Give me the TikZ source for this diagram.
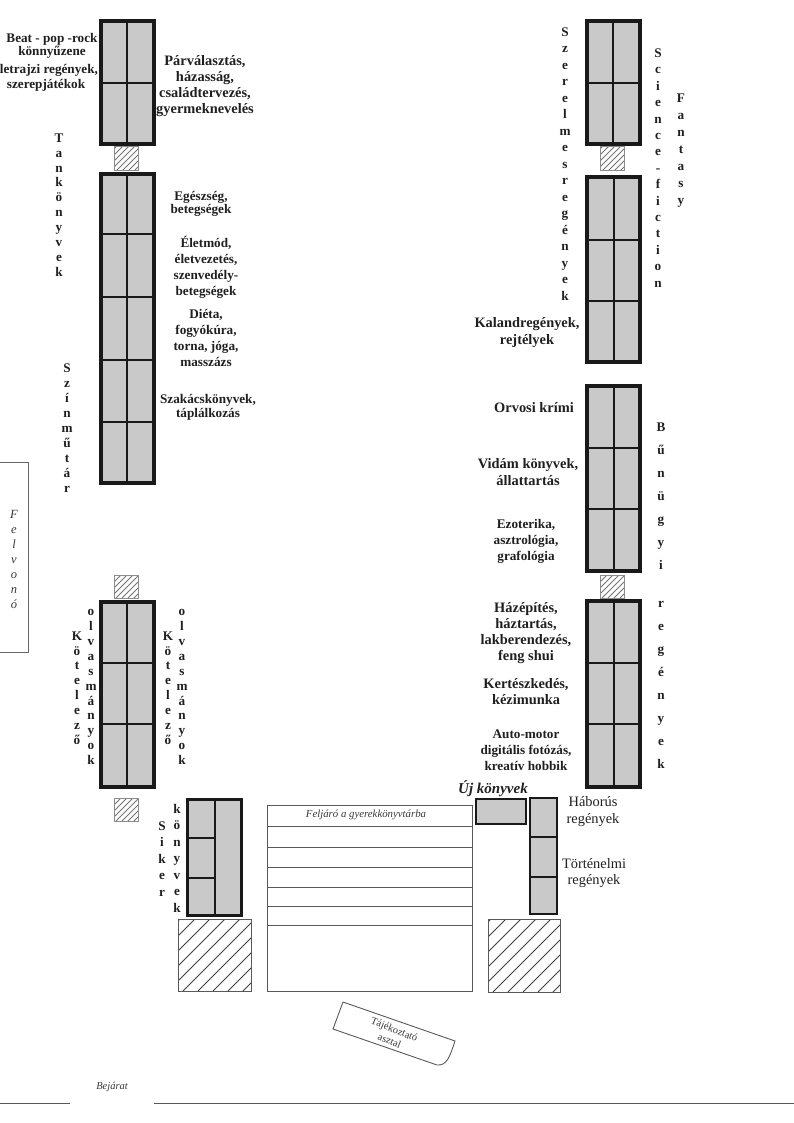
\documentclass[tikz,border=0pt]{standalone}
\usepackage{fontspec}
\setmainfont{Liberation Serif}
\newcommand{\linefont}[2]{\fontsize{#1}{#2}\selectfont}
\newcommand{\hatchbox}[6]{%
  \begin{scope}
    \clip (#1,#2) rectangle (#3,#4);
    \foreach \k in {#6,...,200} {
      \draw[#5] (#1-100+\k,#4) -- ++(100,100);
    }
  \end{scope}
}
\tikzset{
  shelf/.style={draw=black!90, fill=black!21, line width=3.6pt},
  shelfthin/.style={draw=black!90, fill=black!21, line width=2.3pt},
  shelfline/.style={draw=black!90, line width=2.2pt},
  hatchfine/.style={draw=black!55, line width=0.8pt},
  hatchwide/.style={draw=black!75, line width=0.8pt},
  smallframe/.style={draw=black!45, line width=1pt},
  bigframe/.style={draw=black!65, line width=1pt},
  plainline/.style={draw=black!65, line width=0.9pt},
  booklabel/.style={align=center, inner sep=0pt, text=black!88, font=\bfseries\linefont{13.2}{#1}},
  booklabel/.default=16,
  widelabel/.style={align=center, inner sep=0pt, text=black!88, font=\bfseries\linefont{14.4}{#1}},
  widelabel/.default=16,
  thinlabel/.style={align=center, inner sep=0pt, text=black!88, font=\linefont{14.4}{#1}},
  thinlabel/.default=16,
  notelabel/.style={align=center, inner sep=0pt, text=black!78, font=\itshape\linefont{#1}{13}}
}
\begin{document}
\begin{tikzpicture}[x=1pt,y=1pt]
\useasboundingbox (0,0) rectangle (794,-1123);

% left wall
\filldraw[shelf] (100.8,-20.8) rectangle (154.2,-144.2);
\draw[shelfline] (127,-21) -- (127,-144);
\draw[shelfline] (101,-83) -- (154,-83);

\hatchbox{114}{-147}{138}{-171}{hatchfine}{0,6}
\draw[smallframe] (114,-147) rectangle (138,-171);

\filldraw[shelf] (100.8,-173.8) rectangle (154.2,-483.2);
\draw[shelfline] (127,-174) -- (127,-483);
\foreach \y in {-234,-297,-360,-422} {
  \draw[shelfline] (101,\y) -- (154,\y);
}

\hatchbox{114}{-575}{138}{-598}{hatchfine}{0,6}
\draw[smallframe] (114,-575) rectangle (138,-598);

\filldraw[shelf] (100.8,-601.8) rectangle (154.2,-787.2);
\draw[shelfline] (127,-602) -- (127,-787);
\foreach \y in {-663,-724} {
  \draw[shelfline] (101,\y) -- (154,\y);
}

\hatchbox{114}{-798}{138}{-821}{hatchfine}{0,6}
\draw[smallframe] (114,-798) rectangle (138,-821);

% entrance side
\filldraw[shelfthin, line width=3pt] (187.5,-799.5) rectangle (241.5,-915.5);
\draw[shelfline] (215,-800) -- (215,-915);
\foreach \y in {-838,-878} {
  \draw[shelfline] (188,\y) -- (215,\y);
}

\hatchbox{178}{-919}{251}{-991}{hatchwide}{0,15}
\draw[bigframe] (178,-919) rectangle (251,-991);

\draw[plainline] (267,-805) rectangle (472,-991);
\foreach \y in {-826,-847,-867,-887,-906,-925} {
  \draw[plainline] (267,\y) -- (472,\y);
}

\filldraw[shelfthin] (476,-799) rectangle (526,-824);
\filldraw[shelfthin] (530,-798) rectangle (557,-914);
\foreach \y in {-837,-877} {
  \draw[shelfline] (531,\y) -- (557,\y);
}

\hatchbox{488}{-919}{560}{-992}{hatchwide}{0,15}
\draw[bigframe] (488,-919) rectangle (560,-992);

% right wall
\filldraw[shelf] (586.8,-20.8) rectangle (640.2,-144.2);
\draw[shelfline] (613,-21) -- (613,-144);
\draw[shelfline] (587,-83) -- (640,-83);

\hatchbox{600}{-147}{624}{-171}{hatchfine}{0,6}
\draw[smallframe] (600,-147) rectangle (624,-171);

\filldraw[shelf] (586.8,-176.8) rectangle (640.2,-362.2);
\draw[shelfline] (614,-177) -- (614,-362);
\foreach \y in {-240,-301} {
  \draw[shelfline] (587,\y) -- (640,\y);
}

\filldraw[shelf] (586.8,-385.8) rectangle (640.2,-571.2);
\draw[shelfline] (614,-386) -- (614,-571);
\foreach \y in {-448,-509} {
  \draw[shelfline] (587,\y) -- (640,\y);
}

\hatchbox{600}{-575}{624}{-598}{hatchfine}{0,6}
\draw[smallframe] (600,-575) rectangle (624,-598);

\filldraw[shelf] (586.8,-600.8) rectangle (640.2,-787.2);
\draw[shelfline] (614,-601) -- (614,-787);
\foreach \y in {-663,-724} {
  \draw[shelfline] (587,\y) -- (640,\y);
}

% lift, desk, front wall
\draw[draw=black!60, line width=1pt] (0,-462) -- (28,-462) -- (28,-652) -- (0,-652);
\draw[draw=black!65, line width=0.9pt] (343,-1002) -- (455,-1041) .. controls (450,-1056) and (447,-1066) .. (437,-1065) -- (333,-1029) -- cycle;
\draw[plainline] (0,-1103) -- (70,-1103);
\draw[plainline] (154,-1103) -- (794,-1103);

\node[notelabel=12.5, font=\itshape\linefont{12.5}{15}] (lift) at (14,-559) {F\\e\\l\\v\\o\\n\\ó};
\node[notelabel=10.8] (stairs) at (366,-815) {Feljáró a gyerekkönyvtárba};
\node[notelabel=10, rotate=-22, font=\linefont{10.5}{12.5}] (desk) at (392,-1035) {Tájékoztató\\asztal};
\node[notelabel=10.5] (entrance) at (112,-1087) {Bejárat};

% labels of the left wall
\node[booklabel=13] (beat) at (52,-46) {Beat - pop -rock\\könnyűzene};
\node[booklabel=15] (bio) at (46,-78) {életrajzi regények,\\szerepjátékok};
\node[widelabel] (family) at (205,-86) {Párválasztás,\\házasság,\\családtervezés,\\gyermeknevelés};
\node[booklabel=13] (health) at (201,-204) {Egészség,\\betegségek};
\node[booklabel] (life) at (206,-267) {Életmód,\\életvezetés,\\szenvedély-\\betegségek};
\node[booklabel] (diet) at (206,-338) {Diéta,\\fogyókúra,\\torna, jóga,\\masszázs};
\node[booklabel=14] (cook) at (208,-407) {Szakácskönyvek,\\táplálkozás};

\node[booklabel=14.9] (school) at (59,-205) {T\\a\\n\\k\\ö\\n\\y\\v\\e\\k};
\node[booklabel=15] (drama) at (67,-428) {S\\z\\í\\n\\m\\ű\\t\\á\\r};
\node[booklabel=14.9] (must1) at (77,-688) {K\\ö\\t\\e\\l\\e\\z\\ő};
\node[booklabel=14.9] (read1) at (91,-687) {o\\l\\v\\a\\s\\m\\á\\n\\y\\o\\k};
\node[booklabel=14.9] (must2) at (168,-688) {K\\ö\\t\\e\\l\\e\\z\\ő};
\node[booklabel=14.9] (read2) at (182,-687) {o\\l\\v\\a\\s\\m\\á\\n\\y\\o\\k};
\node[booklabel=16.5] (hit) at (162,-859) {S\\i\\k\\e\\r};
\node[booklabel=16.5] (hitbook) at (177,-858) {k\\ö\\n\\y\\v\\e\\k};

% labels of the right wall
\node[booklabel=16.5] (love) at (565,-164) {S\\z\\e\\r\\e\\l\\m\\e\\s\\r\\e\\g\\é\\n\\y\\e\\k};
\node[booklabel=16.4] (scifi) at (658,-168) {S\\c\\i\\e\\n\\c\\e\\-\\f\\i\\c\\t\\i\\o\\n};
\node[booklabel=17] (fantasy) at (681,-151) {F\\a\\n\\t\\a\\s\\y};
\node[widelabel=17] (adventure) at (527,-333) {Kalandregények,\\rejtélyek};
\node[widelabel] (medic) at (534,-408) {Orvosi krími};
\node[widelabel=17] (fun) at (528,-472) {Vidám könyvek,\\állattartás};
\node[booklabel] (eso) at (526,-541) {Ezoterika,\\asztrológia,\\grafológia};
\node[widelabel] (house) at (526,-633) {Házépítés,\\háztartás,\\lakberendezés,\\feng shui};
\node[widelabel] (garden) at (526,-692) {Kertészkedés,\\kézimunka};
\node[booklabel] (auto) at (526,-750) {Auto-motor\\digitális fotózás,\\kreatív hobbik};
\node[booklabel=23] (crime1) at (661,-496) {B\\ű\\n\\ü\\g\\y\\i};
\node[booklabel=23] (crime2) at (661,-685) {r\\e\\g\\é\\n\\y\\e\\k};
\node[booklabel, font=\bfseries\itshape\linefont{15}{15}] (fresh) at (493,-789) {Új könyvek};
\node[thinlabel=17] (war) at (593,-812) {Háborús\\regények};
\node[thinlabel=16] (history) at (594,-873) {Történelmi\\regények};

\end{tikzpicture}
\end{document}
